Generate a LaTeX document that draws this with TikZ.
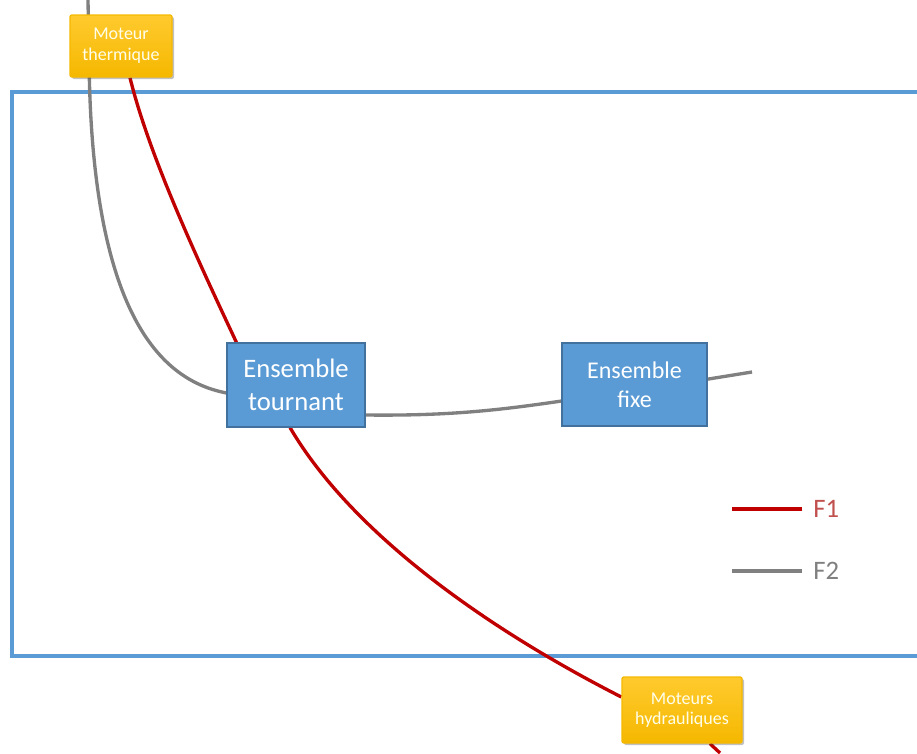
\documentclass[tikz,border=0pt]{standalone}
\usepackage{fontspec}
\setmainfont{Carlito}
\usetikzlibrary{positioning, calc, backgrounds, shadows}
\definecolor{cblue}{HTML}{5B9BD5}
\definecolor{cbluedark}{HTML}{41719C}
\definecolor{cgoldtop}{HTML}{FFCA2E}
\definecolor{cgold}{HTML}{F5B800}
\definecolor{cred}{HTML}{C00000}
\definecolor{credtext}{HTML}{C0504D}
\definecolor{cgrey}{HTML}{808080}
\tikzset{
  every picture/.style={line width=1pt},
  block/.style={draw=cbluedark, fill=cblue, text=white, align=center, line width=0.8pt, inner sep=2pt},
  motor/.style={top color=cgoldtop, bottom color=cgold, draw=cgold, rounded corners=1.5pt,
    text=white!92!yellow, align=center, inner sep=1pt, font=\fontsize{13.5}{15.5}\selectfont,
    drop shadow={shadow xshift=1.5pt, shadow yshift=-1.5pt, opacity=.35, fill=black!70}},
  fone/.style={draw=cred, line width=2.5pt},
  ftwo/.style={draw=cgrey, line width=2.5pt},
  frame/.style={draw=cblue, line width=3pt},
  legend/.style={font=\fontsize{20}{24}\selectfont, anchor=west, inner sep=0pt},
}

\begin{document}
\begin{tikzpicture}[x=0.75pt, y=-0.75pt]
  \useasboundingbox (0,0) rectangle (917,753);

  % boxes
  \node[motor, minimum width=76.5pt, minimum height=46.5pt] (therm) at (121,46) {Moteur\\thermique};
  \node[block, minimum width=103.5pt, minimum height=63pt, font=\fontsize{20}{24.5}\selectfont] (tourn) at (296,385) {Ensemble\\tournant};
  \node[block, minimum width=108.75pt, minimum height=62.25pt, font=\fontsize{18}{22}\selectfont] (fixe) at (634.5,384.5) {Ensemble\\fixe};
  \node[motor, minimum width=90pt, minimum height=49.5pt] (hydr) at (682,710) {Moteurs\\hydrauliques};

  \coordinate (gtop) at (88,0);
  \coordinate (gend) at (752,372);
  \coordinate (rbot) at (720,753);

  \begin{pgfonlayer}{background}
    \draw[frame] (12,92) rectangle (940,656);
    % F2
    \draw[ftwo] (gtop) -- ([xshift=15pt]therm.south west)
      .. controls (95,330) and (170,382) .. ([yshift=-6pt]tourn.west);
    \draw[ftwo] ([yshift=-22.5pt]tourn.east)
      .. controls (450,416) and (500,410) .. ([yshift=-12.4pt]fixe.west);
    \draw[ftwo] ([yshift=4pt]fixe.east) -- (gend);
    % F1
    \draw[fone] ([xshift=6.75pt]therm.south)
      .. controls (150,160) and (205,275) .. ([xshift=7.5pt]tourn.north west);
    \draw[fone] ([xshift=-4.5pt]tourn.south)
      .. controls (350,530) and (480,625) .. ([yshift=9.75pt]hydr.west);
    \draw[fone] ([xshift=21pt]hydr.south) -- (rbot);
  \end{pgfonlayer}

  % legend
  \foreach \lab/\y/\sty/\col in {F1/509/fone/credtext, F2/571/ftwo/cgrey} {
    \node[legend, text=\col] (leg\lab) at (813,\y) {\lab};
    \draw[\sty, line width=3pt] ([xshift=-8pt]leg\lab.west) -- ++(-53pt,0);
  }
\end{tikzpicture}
\end{document}
